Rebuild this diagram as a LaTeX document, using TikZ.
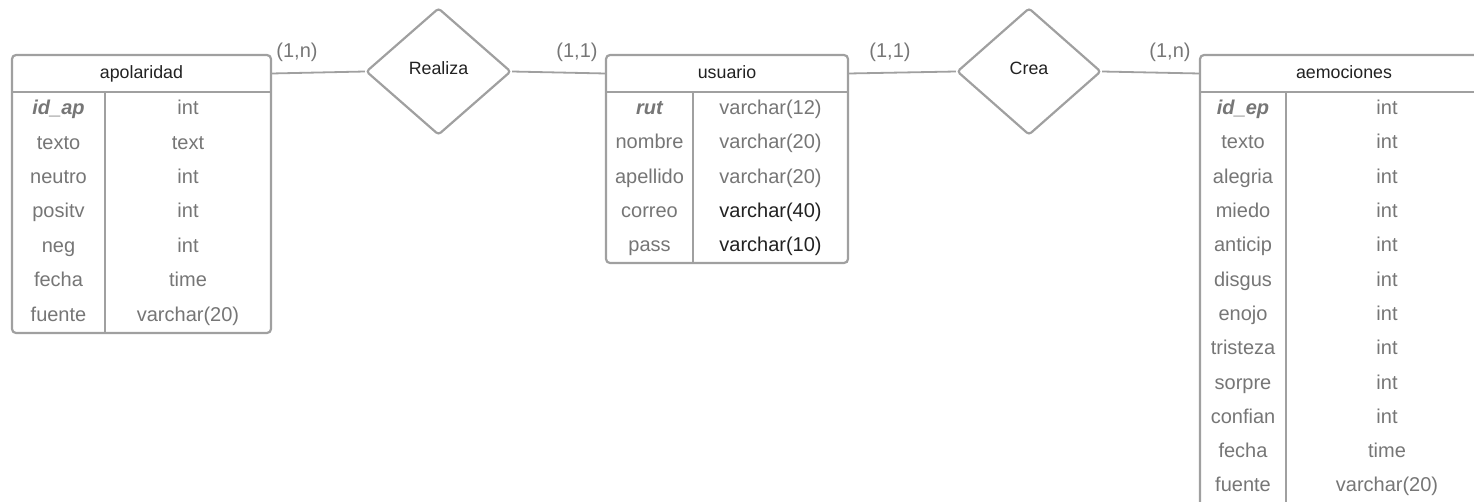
\documentclass[tikz,border=0pt]{standalone}
\usepackage{fontspec}
\setmainfont{Liberation Sans}
\usetikzlibrary{shapes.geometric}
\definecolor{edge}{HTML}{A0A0A0}
\definecolor{soft}{HTML}{767676}
\definecolor{ink}{HTML}{222222}

\begin{document}
\begin{tikzpicture}[x=1pt,y=-1pt,
  tbl/.style={draw=edge, line width=2.2pt, rounded corners=4pt, fill=white, inner sep=0pt},
  sep/.style={draw=edge, line width=2.2pt},
  hdr/.style={inner sep=0pt, minimum height=37pt, text height=13pt, text depth=4pt,
    font=\fontsize{17.8}{20}\selectfont, text=ink},
  cell/.style={inner sep=0pt, text height=15pt, text depth=4pt,
    font=\fontsize{20}{22}\selectfont, text=soft},
  pk/.style={cell, font=\fontsize{20}{22}\selectfont\bfseries\itshape},
  rel/.style={diamond, draw=edge, line width=2.2pt, rounded corners=3pt, inner sep=0pt,
    fill=white},
  rellabel/.style={inner sep=0pt, text height=13pt, text depth=4pt,
    font=\fontsize{17.8}{20}\selectfont, text=ink},
  card/.style={inner sep=0pt, text height=15pt, text depth=4pt,
    font=\fontsize{20}{22}\selectfont, text=soft},
  link/.style={draw=edge, line width=1.8pt}]

\clip (0,0) rectangle (1474,501);

% ---------- table apolaridad ----------
\node[tbl, minimum width=259pt, minimum height=278pt] (apol) at (141.5,194) {};
\node[hdr, minimum width=259pt] (apolh) at (141.5,73.5) {apolaridad};
\draw[sep] (12,92) -- (271,92);
\draw[sep] (105,92) -- (105,333);
\node[pk] (apol-k1) at (58.5,109.2) {id\_ap};
\node[cell] (apol-t1) at (188,109.2) {int};
\foreach \k/\t [count=\i from 2] in {texto/text, neutro/int, positv/int, neg/int, fecha/time, fuente/varchar(20)} {
  \node[cell] (apol-k\i) at (58.5,{92+34.4*(\i-0.5)}) {\k};
  \node[cell] (apol-t\i) at (188,{92+34.4*(\i-0.5)}) {\t};
}

% ---------- table usuario ----------
\node[tbl, minimum width=242pt, minimum height=208pt] (usu) at (727,159) {};
\node[hdr, minimum width=242pt] (usuh) at (727,73.5) {usuario};
\draw[sep] (606,92) -- (848,92);
\draw[sep] (693,92) -- (693,263);
\node[pk] (usu-k1) at (649.5,109.1) {rut};
\node[cell] (usu-t1) at (770.5,109.1) {varchar(12)};
\node[cell] (usu-k2) at (649.5,143.3) {nombre};
\node[cell] (usu-t2) at (770.5,143.3) {varchar(20)};
\node[cell] (usu-k3) at (649.5,177.5) {apellido};
\node[cell] (usu-t3) at (770.5,177.5) {varchar(20)};
\node[cell] (usu-k4) at (649.5,211.7) {correo};
\node[cell, text=ink] (usu-t4) at (770.5,211.7) {varchar(40)};
\node[cell] (usu-k5) at (649.5,245.9) {pass};
\node[cell, text=ink] (usu-t5) at (770.5,245.9) {varchar(10)};

% ---------- table aemociones ----------
\node[tbl, minimum width=288pt, minimum height=451pt] (aem) at (1344,280.5) {};
\node[hdr, minimum width=288pt] (aemh) at (1344,73.5) {aemociones};
\draw[sep] (1200,92) -- (1488,92);
\draw[sep] (1286,92) -- (1286,506);
\node[pk] (aem-k1) at (1243,109.2) {id\_ep};
\node[cell] (aem-t1) at (1387,109.2) {int};
\foreach \k/\t [count=\i from 2] in {texto/int, alegria/int, miedo/int, anticip/int, disgus/int, enojo/int, tristeza/int, sorpre/int, confian/int, fecha/time, fuente/varchar(20)} {
  \node[cell] (aem-k\i) at (1243,{92+34.3*(\i-0.5)}) {\k};
  \node[cell] (aem-t\i) at (1387,{92+34.3*(\i-0.5)}) {\t};
}

% ---------- relationships ----------
\node[rel, minimum width=145pt, minimum height=127pt] (realiza) at (438.5,71.5) {};
\node[rellabel] (realizat) at (438.5,70) {Realiza};
\node[rel, minimum width=144pt, minimum height=127pt] (crea) at (1029,71.5) {};
\node[rellabel] (creat) at (1029,70) {Crea};

\draw[link] (apolh.east) -- (realiza.west);
\draw[link] (realiza.east) -- (usuh.west);
\draw[link] (usuh.east) -- (crea.west);
\draw[link] (crea.east) -- (aemh.west);

% ---------- cardinalities ----------
\node[card] (c1) at (297,52) {(1,n)};
\node[card] (c2) at (577,52) {(1,1)};
\node[card] (c3) at (890,52) {(1,1)};
\node[card] (c4) at (1170,52) {(1,n)};
\end{tikzpicture}
\end{document}
